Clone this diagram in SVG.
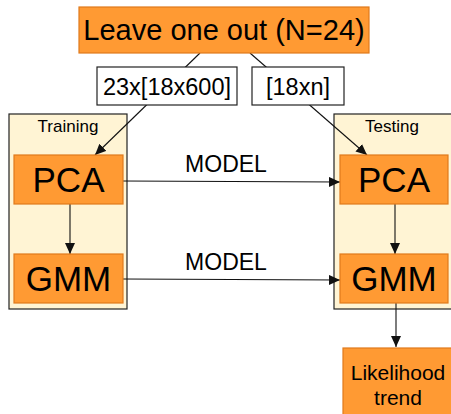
<svg xmlns="http://www.w3.org/2000/svg" width="451" height="414" viewBox="0 0 451 414">
  <style>
    text { font-family: "Liberation Sans", Arial, sans-serif; fill: #000; }
    .proc { fill: #FF9A33; stroke: #E07A1C; stroke-width: 1.2; }
    .stage { fill: #FFF4D4; stroke: #222; stroke-width: 1.2; }
    .data { fill: #fff; stroke: #222; stroke-width: 1.2; }
    .edge { stroke: #111; stroke-width: 1.1; fill: none; marker-end: url(#arrow); }
    .big { font-size: 35px; text-anchor: middle; }
    .mid { font-size: 23px; text-anchor: middle; }
    .small { font-size: 17px; text-anchor: middle; }
  </style>
  <defs>
    <marker id="arrow" viewBox="0 0 10 10" refX="10" refY="5" markerWidth="11" markerHeight="10" markerUnits="userSpaceOnUse" orient="auto" preserveAspectRatio="none">
      <path d="M0,0 L10,5 L0,10 z" fill="#111"/>
    </marker>
  </defs>

  <!-- stage containers -->
  <g id="training">
    <rect class="stage" x="9" y="114" width="118" height="195"/>
    <text class="small" x="68" y="132">Training</text>
  </g>
  <g id="testing">
    <rect class="stage" x="334" y="114" width="130" height="195"/>
    <text class="small" x="392" y="132">Testing</text>
  </g>

  <!-- connectors -->
  <g id="connectors">
    <line class="edge" x1="200" y1="53" x2="95" y2="155"/>
    <line class="edge" x1="250" y1="53" x2="367" y2="155"/>
    <line class="edge" x1="70" y1="204" x2="70" y2="254"/>
    <line class="edge" x1="395" y1="204" x2="395" y2="254"/>
    <line class="edge" x1="123" y1="181" x2="340" y2="182"/>
    <line class="edge" x1="123" y1="279" x2="340" y2="280"/>
    <line class="edge" x1="396" y1="303" x2="396" y2="347"/>
    <text class="mid" x="226" y="172">MODEL</text>
    <text class="mid" x="226" y="270">MODEL</text>
  </g>

  <g id="leave-one-out">
    <rect class="proc" x="79" y="7" width="290" height="46"/>
    <text x="224" y="40" style="font-size:29px;text-anchor:middle">Leave one out (N=24)</text>
  </g>

  <g id="train-data">
    <rect class="data" x="97" y="67" width="140" height="38"/>
    <text x="167" y="94.5" style="font-size:23.5px;text-anchor:middle">23x[18x600]</text>
  </g>
  <g id="test-data">
    <rect class="data" x="252" y="67" width="92" height="38"/>
    <text x="298" y="94.5" style="font-size:23.5px;text-anchor:middle">[18xn]</text>
  </g>

  <g id="pca-train">
    <rect class="proc" x="14" y="155" width="109" height="49"/>
    <text class="big" x="68.5" y="192">PCA</text>
  </g>
  <g id="gmm-train">
    <rect class="proc" x="14" y="254" width="109" height="49"/>
    <text class="big" x="68.5" y="291">GMM</text>
  </g>
  <g id="pca-test">
    <rect class="proc" x="340" y="155" width="108" height="49"/>
    <text class="big" x="394" y="192">PCA</text>
  </g>
  <g id="gmm-test">
    <rect class="proc" x="340" y="254" width="108" height="49"/>
    <text class="big" x="394" y="291">GMM</text>
  </g>

  <g id="likelihood">
    <rect class="proc" x="343" y="348" width="120" height="80"/>
    <text x="398" y="380" style="font-size:21px;text-anchor:middle">Likelihood</text>
    <text x="398" y="405" style="font-size:21px;text-anchor:middle">trend</text>
  </g>
</svg>
